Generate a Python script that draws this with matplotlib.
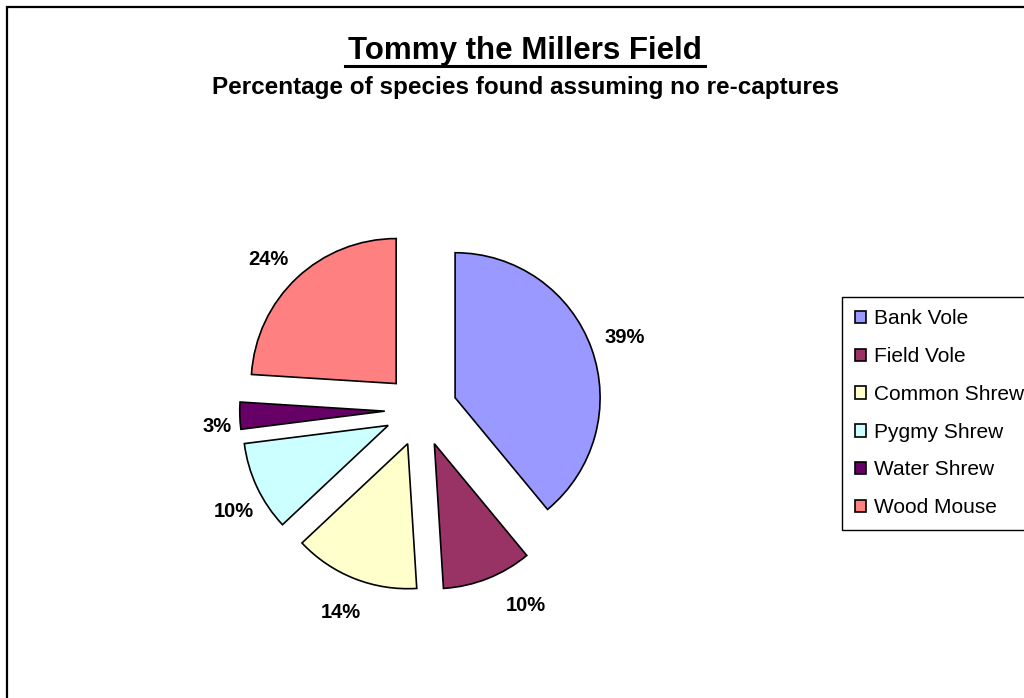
import matplotlib
matplotlib.use("Agg")
import matplotlib.pyplot as plt
from matplotlib.patches import Patch, Rectangle
from matplotlib.transforms import ScaledTranslation

species = ["Bank Vole", "Field Vole", "Common Shrew", "Pygmy Shrew", "Water Shrew", "Wood Mouse"]
percent = [39, 10, 14, 10, 3, 24]
colors = ["#9999FF", "#993366", "#FFFFCC", "#CCFFFF", "#660066", "#FF8080"]
# small label nudges (pixels, right/down) to mimic Excel's label placement
label_nudge = [(-2, 2), (24, -8), (0, -1), (11, 8), (15, 10), (-3, 9)]

plt.rcParams['font.family'] = ['Liberation Sans', 'DejaVu Sans']

W, H = 1024, 698
fig = plt.figure(figsize=(W / 100, H / 100), dpi=100)
fig.patch.set_facecolor("white")

# outer chart-area border (extends past right/bottom edge)
fig.add_artist(Rectangle((7 / W, -0.05), 1.1, 1 - 7 / H + 0.05, transform=fig.transFigure,
                         fill=False, edgecolor="black", linewidth=1.6))

# pie axes: centre at (421, 409) px, radius 145 px
cx, cy, R = 421, 410, 145
half = 230
ax = fig.add_axes([(cx - half) / W, (H - cy - half) / H, 2 * half / W, 2 * half / H])

wedges, texts, autotexts = ax.pie(
    percent, colors=colors, startangle=90, counterclock=False,
    explode=[0.25] * len(percent), radius=1.0,
    autopct=lambda p: f"{p:.0f}%", pctdistance=1.26,
    wedgeprops=dict(edgecolor="black", linewidth=1.2),
    textprops=dict(fontsize=14.5, fontweight="bold", color="black"),
)
for t, (dx, dy) in zip(autotexts, label_nudge):
    t.set_transform(t.get_transform() + ScaledTranslation(dx / 100, -dy / 100, fig.dpi_scale_trans))
ax.set_xlim(-half / R, half / R)
ax.set_ylim(-half / R, half / R)
ax.set_aspect("equal")
ax.axis("off")

fig.text(525 / W, 1 - 59 / H, "Tommy the Millers Field", ha="center", va="baseline",
         fontsize=22.5, fontweight="bold")
# underline
fig.add_artist(plt.Line2D([345 / W, 705 / W], [1 - 66 / H, 1 - 66 / H], color="black",
                          linewidth=2.2, transform=fig.transFigure))
fig.text(526 / W, 1 - 94 / H, "Percentage of species found assuming no re-captures",
         ha="center", va="baseline", fontsize=17.5, fontweight="bold")

handles = [Patch(facecolor=c, edgecolor="black", linewidth=1.2) for c in colors]
leg = fig.legend(handles, species, loc="upper left", bbox_to_anchor=(842 / W, 1 - 297 / H),
                 bbox_transform=fig.transFigure, fontsize=15, frameon=True,
                 fancybox=False, edgecolor="black", framealpha=1,
                 handlelength=0.53, handleheight=0.53, handletextpad=0.42,
                 labelspacing=0.9, borderpad=0.6, borderaxespad=0)
leg.get_frame().set_linewidth(1.0)

fig.savefig("out.png", dpi=100)
